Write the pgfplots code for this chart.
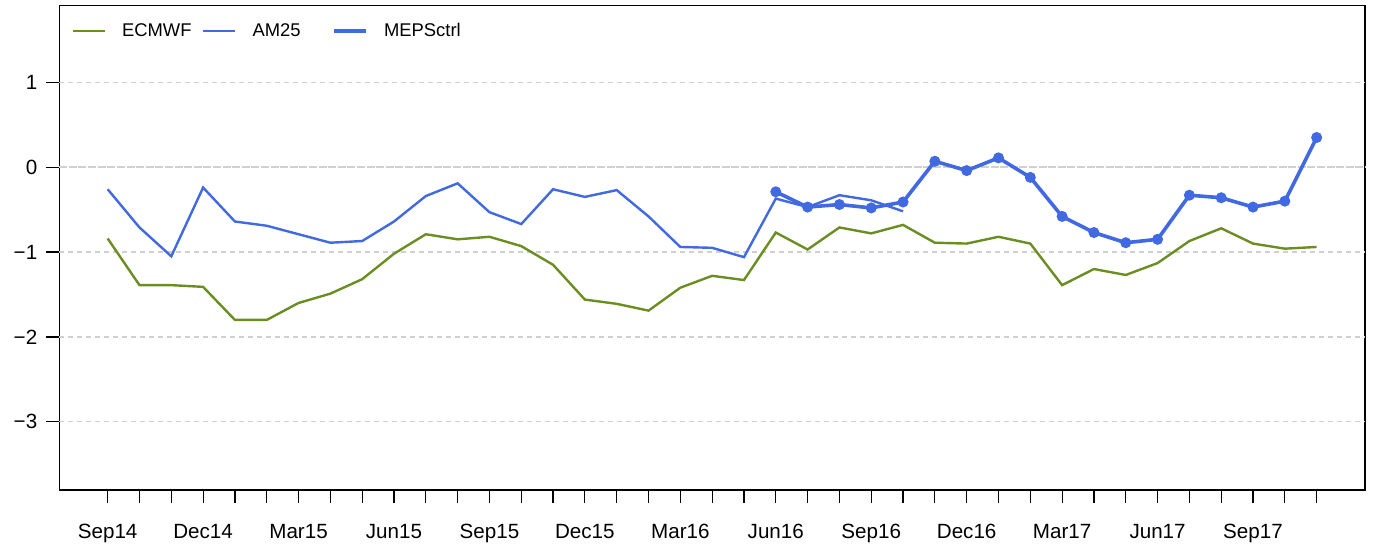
\documentclass[border=0pt]{standalone}
\usepackage{pgfplots}
\pgfplotsset{compat=1.18}
\usepackage{fontspec}
\setmainfont{Liberation Sans}
\definecolor{ecm}{RGB}{107,142,35}
\definecolor{rblue}{RGB}{65,105,225}
\definecolor{gridg}{RGB}{208,208,208}
\begin{document}
\begin{tikzpicture}
\begin{axis}[
  scale only axis,
  width=652.85pt, height=242.15pt,
  xmin=-1.52, xmax=39.52,
  ymin=-3.804, ymax=1.903,
  axis line style={line width=0.6pt},
  tick style={line width=0.6pt, black},
  tick align=outside,
  major tick length=6.5pt,
  xtick={0,...,38},
  xticklabels={Sep14,,,Dec14,,,Mar15,,,Jun15,,,Sep15,,,Dec15,,,Mar16,,,Jun16,,,Sep16,,,Dec16,,,Mar17,,,Jun17,,,Sep17,,},
  ytick={-3,-2,-1,0,1},
  yticklabels={\char"2212 3,\char"2212 2,\char"2212 1,0,1},
  xtick pos=bottom, ytick pos=left,
  /pgf/number format/assume math mode=true,
  tick label style={font=\fontsize{10.3}{12}\selectfont},
  xticklabel style={yshift=-7pt},
  yticklabel style={xshift=-1pt},
  legend style={at={(rel axis cs:0,1)}, anchor=north west, xshift=3pt, yshift=-4.5pt, draw=none, fill=none,
    font=\fontsize{9.2}{11}\selectfont, legend columns=3,
    /tikz/every even column/.append style={text width=38pt}},
  legend cell align=left,
  legend image code/.code={\draw[#1] (0pt,0pt) -- (16pt,0pt); \path (22pt,0pt);},
  clip=false,
]
\coordinate (sw) at (rel axis cs:0,0);
\coordinate (ne) at (rel axis cs:1,1);
\pgfplotsextra{
  \foreach \v in {-3,-2,-1,1}{\draw[gridg, line width=0.6pt, dash pattern=on 2.5pt off 2pt] (axis cs:-1.52,\v) -- (axis cs:39.52,\v);}
  \draw[gridg, line width=0.7pt, dash pattern=on 4pt off 0.8pt] (axis cs:-1.52,0) -- (axis cs:39.52,0);
}
\addplot[ecm, line width=1.2pt, no marks] coordinates {
(0,-0.84)(1,-1.39)(2,-1.39)(3,-1.41)(4,-1.80)(5,-1.80)(6,-1.60)(7,-1.49)(8,-1.32)(9,-1.02)
(10,-0.79)(11,-0.85)(12,-0.82)(13,-0.93)(14,-1.15)(15,-1.56)(16,-1.61)(17,-1.69)(18,-1.42)(19,-1.28)
(20,-1.33)(21,-0.77)(22,-0.97)(23,-0.71)(24,-0.78)(25,-0.68)(26,-0.89)(27,-0.90)(28,-0.82)(29,-0.90)
(30,-1.39)(31,-1.20)(32,-1.27)(33,-1.13)(34,-0.87)(35,-0.72)(36,-0.90)(37,-0.96)(38,-0.94)};
\addlegendentry{ECMWF}
\addplot[rblue, line width=1.2pt, no marks] coordinates {
(0,-0.26)(1,-0.71)(2,-1.05)(3,-0.24)(4,-0.64)(5,-0.69)(6,-0.79)(7,-0.89)(8,-0.87)(9,-0.64)
(10,-0.34)(11,-0.19)(12,-0.53)(13,-0.67)(14,-0.26)(15,-0.35)(16,-0.27)(17,-0.58)(18,-0.94)(19,-0.95)
(20,-1.06)(21,-0.37)(22,-0.47)(23,-0.33)(24,-0.39)(25,-0.52)};
\addlegendentry{AM25}
\addplot[rblue, line width=1.8pt, mark=*, mark size=1.8pt, mark options={solid}] coordinates {
(21,-0.29)(22,-0.47)(23,-0.44)(24,-0.48)(25,-0.41)(26,0.07)(27,-0.04)(28,0.11)(29,-0.12)
(30,-0.58)(31,-0.77)(32,-0.89)(33,-0.85)(34,-0.33)(35,-0.36)(36,-0.47)(37,-0.40)(38,0.35)};
\addlegendentry{MEPSctrl}
\end{axis}
\pgfresetboundingbox
\path[use as bounding box] ([xshift=-29.65pt,yshift=-29pt]sw) rectangle ([xshift=5pt,yshift=2.85pt]ne);
\end{tikzpicture}
\end{document}
